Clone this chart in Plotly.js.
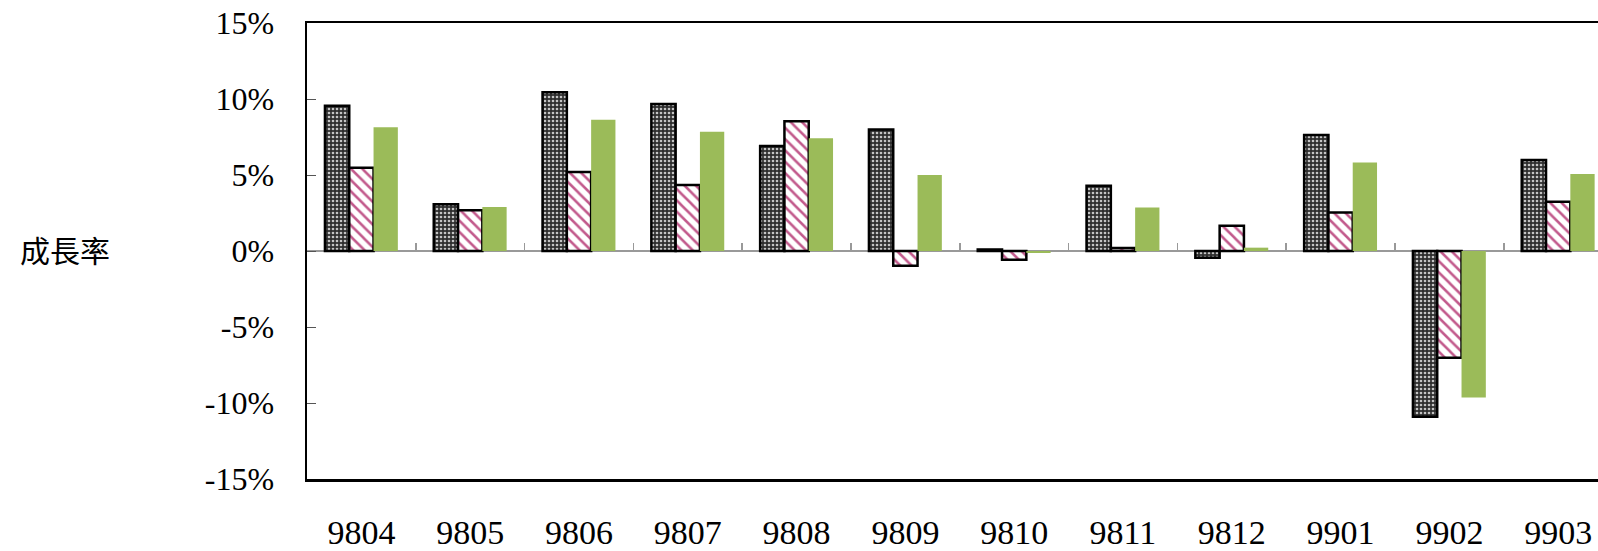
<!DOCTYPE html>
<html>
<head>
<meta charset="utf-8">
<script src="https://cdn.plot.ly/plotly-3.0.1.min.js"></script>
<style>
html,body{margin:0;padding:0;background:#fff;overflow:hidden;}
#chart{width:1598px;height:551px;}
</style>
</head>
<body>
<div id="chart"></div>
<script>
const categories = ['9804','9805','9806','9807','9808','9809','9810','9811','9812','9901','9902','9903'];
const seriesA = [9.55, 3.07, 10.44, 9.67, 6.90, 8.00, 0.10, 4.30, -0.44, 7.63, -10.90, 5.99];
const seriesB = [5.48, 2.68, 5.20, 4.34, 8.53, -0.97, -0.57, 0.20, 1.66, 2.54, -7.02, 3.24];
const seriesC = [8.14, 2.90, 8.64, 7.85, 7.41, 5.00, -0.13, 2.87, 0.22, 5.83, -9.63, 5.07];
const yTickVals = [-15, -10, -5, 0, 5, 10, 15];
const yTickText = ['-15%', '-10%', '-5%', '0%', '5%', '10%', '15%'];
const yLabel = '成長率';

const serif = 'Liberation Serif, Times New Roman, serif';
const xMax = 11.366;

const traces = [
  {
    type: 'bar', x: categories, y: seriesA, name: 'A',
    marker: {
      color: '#3a3a3a',
      line: {color: '#000', width: 2.5},
      pattern: {shape: '.', bgcolor: '#2e2e2e', fgcolor: '#c4c4c4', size: 4, solidity: 0.35}
    },
    hoverinfo: 'x+y'
  },
  {
    type: 'bar', x: categories, y: seriesB, name: 'B',
    marker: {
      color: '#ffffff',
      line: {color: '#000', width: 2.5},
      pattern: {shape: '\\', bgcolor: '#ffffff', fgcolor: '#c25a8c', size: 8, solidity: 0.32}
    },
    hoverinfo: 'x+y'
  },
  {
    type: 'bar', x: categories, y: seriesC, name: 'C',
    marker: {color: '#9bbb59', line: {width: 0}},
    hoverinfo: 'x+y'
  },
  {
    type: 'scatter', x: [0], y: [null], xaxis: 'x2', yaxis: 'y',
    mode: 'markers', showlegend: false, hoverinfo: 'skip'
  }
];

const layout = {
  width: 1598, height: 551,
  margin: {l: 307, r: 0, t: 23, b: 72, pad: 0},
  paper_bgcolor: '#ffffff', plot_bgcolor: '#ffffff',
  showlegend: false,
  barmode: 'group', bargap: 0.33, bargroupgap: 0,
  font: {family: serif, color: '#000'},
  xaxis: {
    type: 'category', range: [-0.5, xMax],
    showline: true, linecolor: '#000', linewidth: 2.5, mirror: true,
    ticks: '', showgrid: false, zeroline: false,
    tickfont: {family: serif, size: 34, color: '#000'},
    ticklabelstandoff: 22,
    fixedrange: true
  },
  xaxis2: {
    type: 'linear', overlaying: 'x', anchor: 'free', position: 0.5, side: 'bottom',
    range: [-0.5, xMax],
    tick0: 0.5, dtick: 1, ticks: 'inside', ticklen: 8, tickwidth: 1.5, tickcolor: '#999',
    showticklabels: false, showline: false, showgrid: false, zeroline: false,
    fixedrange: true
  },
  yaxis: {
    range: [-15, 15],
    tickvals: yTickVals, ticktext: yTickText,
    ticks: 'inside', ticklen: 9, tickwidth: 1, tickcolor: '#555',
    showline: true, linecolor: '#000', linewidth: 2.5, mirror: false,
    showgrid: false,
    zeroline: true, zerolinecolor: '#999', zerolinewidth: 1.5,
    tickfont: {family: serif, size: 32, color: '#000'},
    ticklabelstandoff: 24,
    fixedrange: true
  },
  annotations: [
    {
      text: yLabel, xref: 'paper', yref: 'paper',
      x: (65 - 307) / 1291, y: (479 - 249) / 456,
      xanchor: 'center', yanchor: 'middle', showarrow: false,
      font: {family: 'Noto Sans CJK TC, Noto Sans CJK SC, sans-serif', size: 30, color: '#000'}
    }
  ]
};

Plotly.newPlot('chart', traces, layout, {displayModeBar: false, staticPlot: true});
</script>
</body>
</html>
